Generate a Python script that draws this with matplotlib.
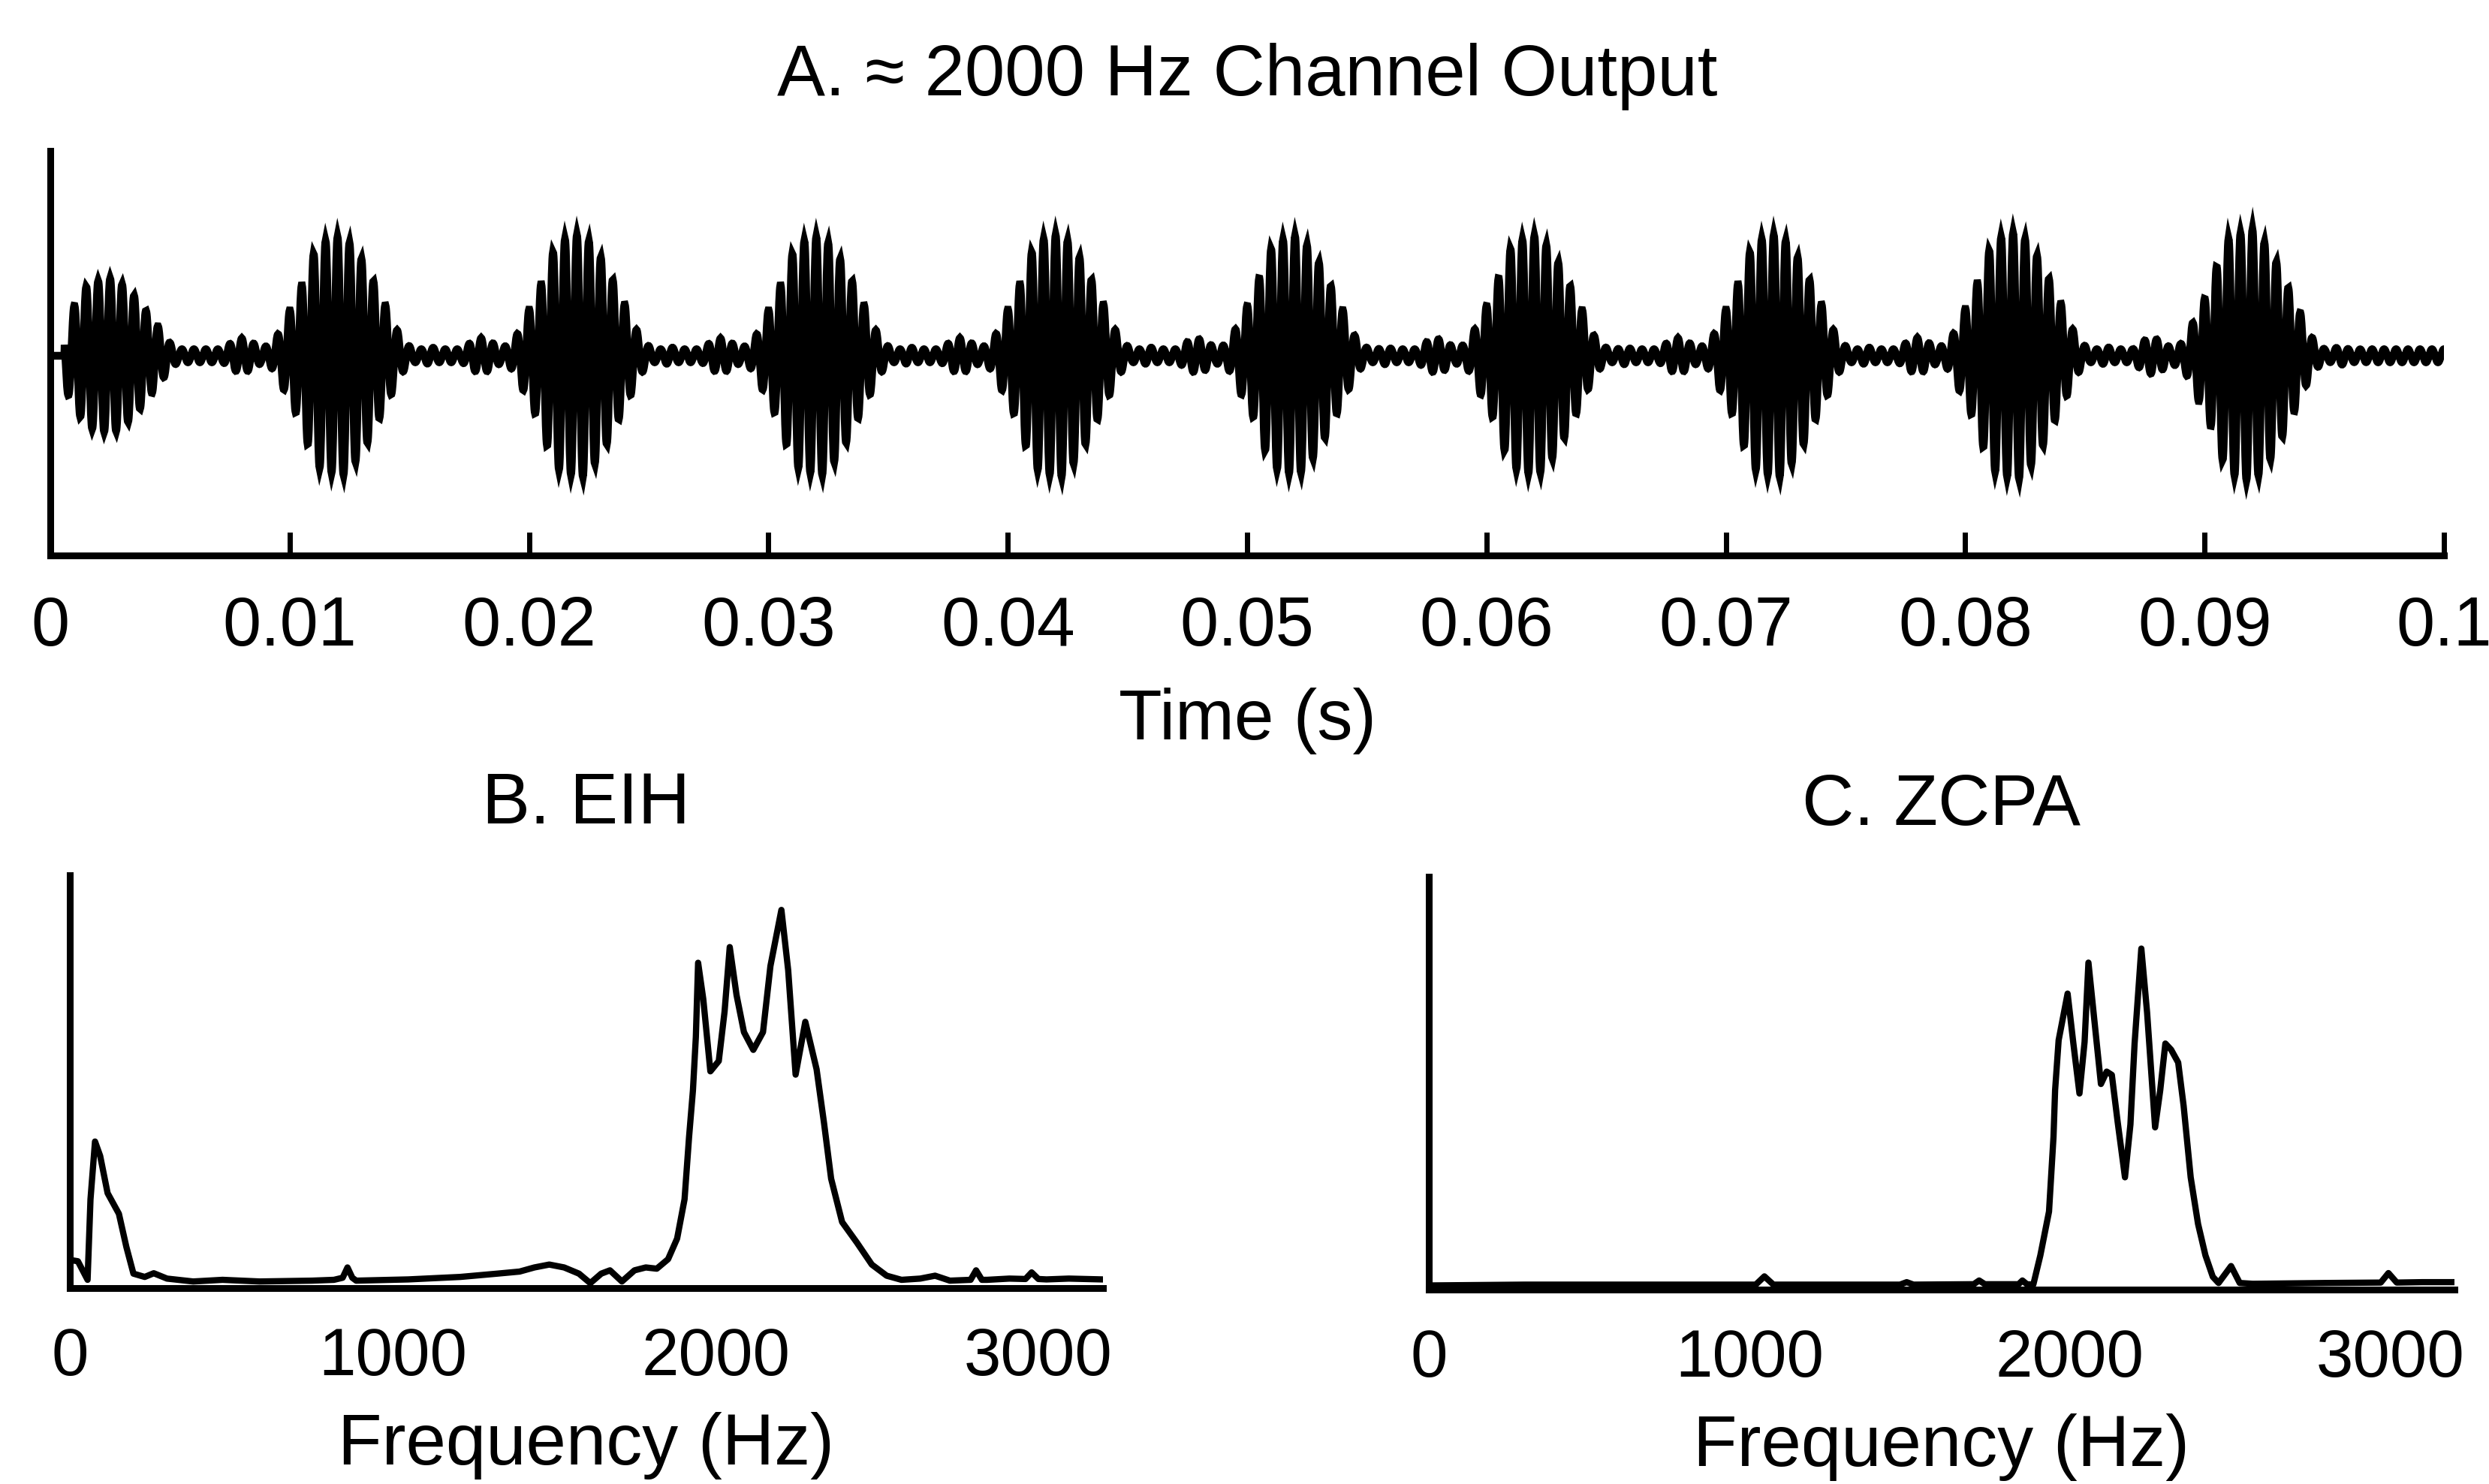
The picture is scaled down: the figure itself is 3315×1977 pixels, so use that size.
import numpy as np
import matplotlib
matplotlib.use("Agg")
import matplotlib.pyplot as plt

# ---------------- data ----------------
# Panel A: burst centres (ms) and peak amplitudes of the ~2000 Hz channel output
burst_centers_ms = [2.6, 12.2, 22.2, 32.2, 42.2, 52.1, 62.1, 72.2, 82.2, 92.0]
burst_peaks = [0.40, 0.62, 0.63, 0.62, 0.63, 0.62, 0.62, 0.63, 0.64, 0.65]
# envelope shape of one pitch period around a burst centre (relative, peak = 1)
env_dt_ms = [-5.0, -4.6, -4.2, -3.8, -3.4, -3.0, -2.8, -2.3, -1.8, -1.4, -1.0, -0.5,
             0.0, 0.5, 1.0, 1.4, 2.0, 2.4, 2.7, 3.1, 3.7, 4.2, 4.6, 5.0]
env_shape = [0.05, 0.11, 0.14, 0.11, 0.06, 0.09, 0.13, 0.33, 0.51, 0.74, 0.90, 0.94,
             0.97, 0.87, 0.72, 0.56, 0.33, 0.16, 0.09, 0.04, 0.07, 0.04, 0.04, 0.05]
carrier_hz = 2000
signal_start_ms = 0.6

time_ticks = [0, 0.01, 0.02, 0.03, 0.04, 0.05, 0.06, 0.07, 0.08, 0.09, 0.1]
time_labels = ["0", "0.01", "0.02", "0.03", "0.04", "0.05", "0.06", "0.07", "0.08", "0.09", "0.1"]

# Panel B: EIH
eih_freq = [2, 25, 55, 64, 78, 94, 117, 152, 175, 197, 232, 260, 301, 382, 473, 588, 750,
            818, 845, 860, 875, 887, 1048, 1209, 1324, 1393, 1439, 1485, 1531, 1577, 1612, 1646,
            1673, 1710, 1749, 1784, 1818, 1853, 1881, 1904, 1918, 1930, 1939, 1946, 1962,
            1984, 2010, 2028, 2044, 2065, 2088, 2117, 2147, 2170, 2204, 2225, 2248, 2278,
            2313, 2336, 2358, 2392, 2438, 2484, 2530, 2576, 2634, 2680, 2726, 2790, 2807, 2825,
            2841, 2910, 2960, 2979, 3000, 3025, 3094, 3198]
eih_level = [0.068, 0.065, 0.020, 0.215, 0.355, 0.320, 0.230, 0.180, 0.100, 0.035, 0.027,
             0.036, 0.023, 0.016, 0.020, 0.016, 0.018, 0.020, 0.025, 0.050, 0.025, 0.018,
             0.021, 0.027, 0.035, 0.040, 0.050, 0.057, 0.050, 0.035, 0.012, 0.035, 0.043,
             0.016, 0.043, 0.050, 0.047, 0.070, 0.120, 0.215, 0.366, 0.479, 0.608, 0.788,
             0.700, 0.525, 0.550, 0.670, 0.826, 0.710, 0.620, 0.577, 0.620, 0.780, 0.916,
             0.770, 0.517, 0.645, 0.530, 0.400, 0.265, 0.160, 0.110, 0.057, 0.030, 0.020,
             0.023, 0.030, 0.018, 0.020, 0.043, 0.020, 0.020, 0.023, 0.022, 0.038, 0.022,
             0.021, 0.023, 0.021]

# Panel C: ZCPA
zcpa_freq = [0, 300, 600, 1020, 1047, 1075, 1200, 1470, 1491, 1512, 1700, 1717, 1735, 1840,
             1852, 1866, 1886, 1908, 1935, 1949, 1954, 1965, 1993, 2011, 2030, 2046, 2058,
             2074, 2097, 2115, 2131, 2149, 2172, 2189, 2202, 2223, 2241, 2266, 2282, 2298,
             2316, 2338, 2355, 2377, 2400, 2423, 2446, 2464, 2503, 2530, 2571, 2800, 2970,
             2994, 3020, 3100, 3200]
zcpa_level = [0.010, 0.012, 0.012, 0.012, 0.032, 0.012, 0.012, 0.012, 0.018, 0.012, 0.013,
              0.022, 0.013, 0.013, 0.022, 0.013, 0.012, 0.083, 0.189, 0.370, 0.483, 0.604,
              0.717, 0.596, 0.475, 0.600, 0.792, 0.671, 0.498, 0.528, 0.520, 0.407, 0.272,
              0.400, 0.596, 0.826, 0.671, 0.393, 0.483, 0.596, 0.581, 0.550, 0.445, 0.272,
              0.159, 0.083, 0.031, 0.016, 0.057, 0.016, 0.014, 0.016, 0.017, 0.040, 0.017,
              0.018, 0.018]

freq_ticks = [0, 1000, 2000, 3000]
freq_labels = ["0", "1000", "2000", "3000"]

# ---------------- fonts ----------------
plt.rcParams["font.family"] = ["Liberation Sans", "DejaVu Sans"]

W, H = 3315, 1977
fig = plt.figure(figsize=(W / 100, H / 100), dpi=100)
fig.patch.set_facecolor("white")

SPINE_LW = 6.5


def style(ax):
    for s in ("top", "right"):
        ax.spines[s].set_visible(False)
    for s in ("left", "bottom"):
        ax.spines[s].set_linewidth(SPINE_LW)
        ax.spines[s].set_color("black")
        ax.spines[s].set_capstyle("projecting")
    ax.set_yticks([])


# ---------------- Panel A ----------------
axA = fig.add_axes([67 / W, 1 - 740 / H, (3255 - 67) / W, (740 - 201) / H])
t = np.linspace(0.0, 0.1, 8001)
t_ms = t * 1000.0
env = np.zeros_like(t)
for c, p in zip(burst_centers_ms, burst_peaks):
    e = p * np.interp(t_ms - c, env_dt_ms, env_shape)
    env = np.maximum(env, e)
env[t_ms < signal_start_ms] = 0.0
signal = env * np.cos(2 * np.pi * carrier_hz * t)
axA.plot(t, signal, color="black", lw=7.5, solid_joinstyle="miter")
axA.set_xlim(0, 0.1)
axA.set_ylim(-1.0, 1.026)
style(axA)
axA.set_xticks(time_ticks)
axA.set_xticklabels(time_labels)
axA.tick_params(axis="x", direction="in", length=22, width=5, pad=38, labelsize=66)
axA.set_xlabel("Time (s)", fontsize=68, labelpad=27)
axA.set_title("A. \u2248 2000 Hz Channel Output", fontsize=69, pad=53)

# ---------------- Panels B and C ----------------
axB = fig.add_axes([93 / W, 1 - 1716 / H, 1376 / W, 550 / H])
axC = fig.add_axes([1903 / W, 1 - 1718 / H, 1366 / W, 550 / H])
for ax, fx, fy, title in ((axB, eih_freq, eih_level, "B. EIH"),
                          (axC, zcpa_freq, zcpa_level, "C. ZCPA")):
    ax.plot(fx, fy, color="black", lw=6.0, solid_joinstyle="round")
    ax.set_xlim(0, 3200)
    ax.set_ylim(0, 1)
    style(ax)
    ax.set_xticks(freq_ticks)
    ax.set_xticklabels(freq_labels)
    ax.tick_params(axis="x", length=0, pad=37, labelsize=64)
    ax.set_xlabel("Frequency (Hz)", fontsize=69, labelpad=21)
    ax.set_title(title, fontsize=69, pad=50)

fig.savefig("out.png", dpi=100, facecolor="white")
